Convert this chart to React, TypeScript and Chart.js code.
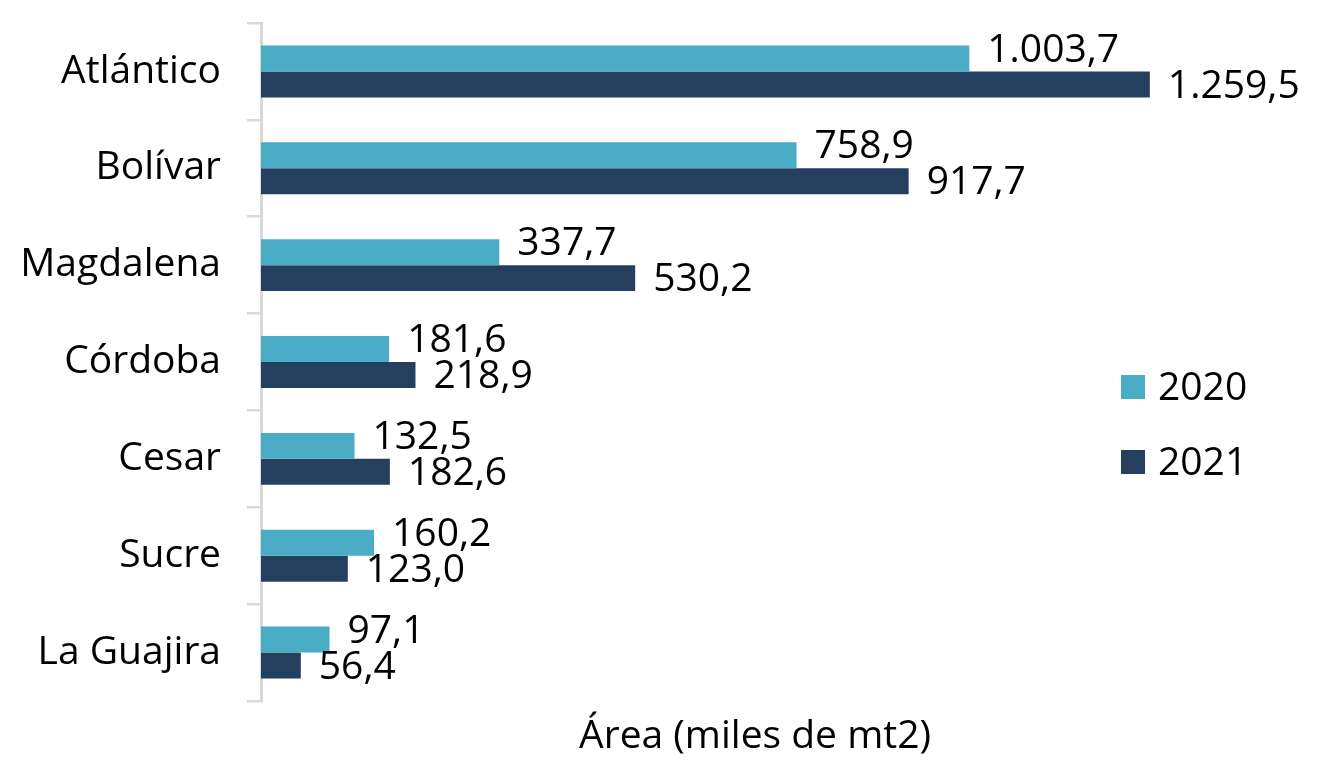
import React, { useEffect, useRef } from 'react';
import { Chart, registerables } from 'chart.js';

Chart.register(...registerables);

const categories = ['Atlántico', 'Bolívar', 'Magdalena', 'Córdoba', 'Cesar', 'Sucre', 'La Guajira'];
const values2020 = [1003.7, 758.9, 337.7, 181.6, 132.5, 160.2, 97.1];
const values2021 = [1259.5, 917.7, 530.2, 218.9, 182.6, 123.0, 56.4];
const seriesLabels = ['2020', '2021'];
const axisTitle = 'Área (miles de mt2)';
const xMax = 1400;

const COLORS = ['#4BACC6', '#253F5F'];
const FONT = '"Open Sans", Lato, sans-serif';
const FONT_SIZE = 39;

function fmt(v: number): string {
  const [i, d] = v.toFixed(1).split('.');
  return i.replace(/\B(?=(\d{3})+(?!\d))/g, '.') + ',' + d;
}

const labelPlugin = {
  id: 'barLabels',
  afterDatasetsDraw(chart: any) {
    const ctx = chart.ctx;
    ctx.save();
    ctx.font = `${FONT_SIZE}px ${FONT}`;
    ctx.fillStyle = '#000';
    ctx.textAlign = 'left';
    ctx.textBaseline = 'middle';
    chart.data.datasets.forEach((ds: any, di: number) => {
      const meta = chart.getDatasetMeta(di);
      meta.data.forEach((el: any, i: number) => {
        const dy = di === 0 ? -8 : 2;
        ctx.fillText(fmt(ds.data[i]), el.x + 18, el.y + dy);
      });
    });
    ctx.restore();
  },
};

const legendPlugin = {
  id: 'sideLegend',
  afterDraw(chart: any) {
    const ctx = chart.ctx;
    ctx.save();
    ctx.font = `${FONT_SIZE}px ${FONT}`;
    ctx.textAlign = 'left';
    ctx.textBaseline = 'alphabetic';
    const rows = [387, 462];
    chart.data.datasets.forEach((ds: any, di: number) => {
      const cy = rows[di];
      ctx.fillStyle = ds.backgroundColor;
      ctx.fillRect(1121, cy - 12, 24, 24);
      ctx.fillStyle = '#000';
      ctx.fillText(ds.label, 1158, cy + 13);
    });
    ctx.restore();
  },
};

export default function App() {
  const ref = useRef<HTMLCanvasElement | null>(null);

  useEffect(() => {
    if (!ref.current) return;
    const chart = new Chart(ref.current, {
      type: 'bar',
      data: {
        labels: categories,
        datasets: [
          {
            label: seriesLabels[0],
            data: values2020,
            backgroundColor: COLORS[0],
            borderWidth: 0,
            categoryPercentage: 0.536,
            barPercentage: 1,
          },
          {
            label: seriesLabels[1],
            data: values2021,
            backgroundColor: COLORS[1],
            borderWidth: 0,
            categoryPercentage: 0.536,
            barPercentage: 1,
          },
        ],
      },
      options: {
        indexAxis: 'y',
        responsive: false,
        animation: false,
        layout: { padding: { top: 23, left: 0, right: 76, bottom: 0 } },
        plugins: {
          legend: { display: false },
          tooltip: { enabled: false },
        },
        scales: {
          x: {
            min: 0,
            max: xMax,
            ticks: { display: false },
            grid: { display: false, drawTicks: false },
            border: { display: false },
            title: {
              display: true,
              text: axisTitle,
              color: '#000',
              font: { family: FONT, size: FONT_SIZE },
              padding: { top: 12, bottom: 2 },
            },
            afterFit(scale: any) {
              scale.height = 61;
              scale.paddingLeft = 0;
              scale.paddingRight = 0;
            },
          },
          y: {
            ticks: {
              color: '#000',
              font: { family: FONT, size: FONT_SIZE },
              padding: 26,
            },
            grid: {
              drawOnChartArea: false,
              drawTicks: true,
              tickLength: 14,
              color: '#d9d9d9',
              lineWidth: 2.5,
              offset: true,
            },
            border: { display: true, color: '#d9d9d9', width: 3 },
            afterFit(scale: any) {
              scale.width = 261;
              scale.paddingTop = 0;
              scale.paddingBottom = 0;
            },
          },
        },
      },
      plugins: [labelPlugin, legendPlugin],
    });
    return () => chart.destroy();
  }, []);

  return (
    <div style={{ position: 'fixed', left: 0, top: 0, width: 1325, height: 762, background: '#fff' }}>
      <canvas ref={ref} width={1325} height={762} style={{ display: 'block' }} />
    </div>
  );
}
